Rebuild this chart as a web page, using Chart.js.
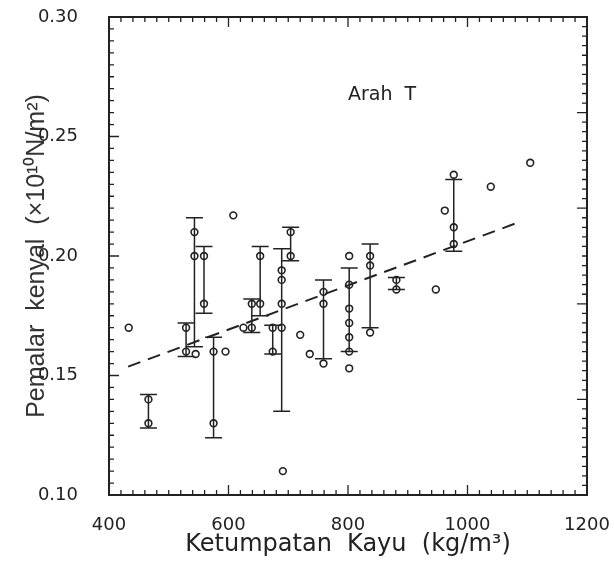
<!DOCTYPE html>
<html>
<head>
<meta charset="utf-8">
<script src="https://cdn.jsdelivr.net/npm/chart.js@4.4.1/dist/chart.umd.min.js"></script>
<style>
  html, body { margin: 0; padding: 0; background: #fff; }
  #wrap { width: 614px; height: 564px; }
</style>
</head>
<body>
<div id="wrap"><canvas id="grafica"></canvas></div>
<script>
// individual measurements (open circles)
const pointX = [433, 466, 466, 529, 529, 545, 543, 543, 559, 559, 575, 575, 595, 608, 625,
                639, 639, 653, 653, 674, 674, 689, 689, 689, 689, 691, 704, 704, 720, 736,
                759, 759, 759, 802, 802, 802, 802, 802, 802, 802, 837, 837, 837, 881, 881,
                947, 962, 977, 977, 977, 1039, 1105];
const pointY = [0.170, 0.140, 0.130, 0.170, 0.160, 0.159, 0.210, 0.200, 0.200, 0.180, 0.160, 0.130, 0.160, 0.217, 0.170,
                0.180, 0.170, 0.200, 0.180, 0.170, 0.160, 0.194, 0.190, 0.180, 0.170, 0.110, 0.210, 0.200, 0.167, 0.159,
                0.185, 0.180, 0.155, 0.200, 0.188, 0.178, 0.172, 0.166, 0.160, 0.153, 0.200, 0.196, 0.168, 0.190, 0.186,
                0.186, 0.219, 0.234, 0.212, 0.205, 0.229, 0.239];

// error bars (species groups)
const barX    = [466, 529, 543, 559, 575, 639, 653, 674, 689, 704, 759, 802, 837, 881, 977];
const barLow  = [0.128, 0.158, 0.162, 0.176, 0.124, 0.168, 0.175, 0.159, 0.135, 0.198, 0.157, 0.160, 0.170, 0.186, 0.202];
const barHigh = [0.142, 0.172, 0.216, 0.204, 0.166, 0.182, 0.204, 0.171, 0.203, 0.212, 0.190, 0.195, 0.205, 0.191, 0.232];

// regression line (dashed)
const fitX = [432, 1091];
const fitY = [0.1537, 0.2146];

// axes
const xTickLabels = [400, 600, 800, 1000, 1200];
const yTickLabels = [0.10, 0.15, 0.20, 0.25, 0.30];

const INK = '#222';
const CAP = 8.5;

// scale paddings off, chart area set by layout padding only
function fixBox(s, size) {
  if (s.isHorizontal()) s.height = size; else s.width = size;
  s.paddingTop = 0; s.paddingBottom = 0; s.paddingLeft = 0; s.paddingRight = 0;
}

const bingkai = {
  id: 'bingkai',
  beforeDatasetsDraw(chart) {
    const { ctx, scales: { x, y } } = chart;
    ctx.save();
    ctx.strokeStyle = INK;
    ctx.lineWidth = 1.5;
    barX.forEach((bx, i) => {
      const px = x.getPixelForValue(bx);
      const lo = y.getPixelForValue(barLow[i]);
      const hi = y.getPixelForValue(barHigh[i]);
      ctx.beginPath();
      ctx.moveTo(px, lo); ctx.lineTo(px, hi);
      ctx.moveTo(px - CAP, lo); ctx.lineTo(px + CAP, lo);
      ctx.moveTo(px - CAP, hi); ctx.lineTo(px + CAP, hi);
      ctx.stroke();
    });
    ctx.restore();
  },
  afterDraw(chart) {
    const { ctx, chartArea: a, scales: { x, y } } = chart;
    ctx.save();
    ctx.strokeStyle = INK;

    // ticks pointing inward
    ctx.lineWidth = 1.3;
    ctx.beginPath();
    x.ticks.forEach(t => {
      const px = x.getPixelForValue(t.value);
      const len = Math.round(t.value) % 200 === 0 ? 10 : 5;
      ctx.moveTo(px, a.bottom); ctx.lineTo(px, a.bottom - len);
      ctx.moveTo(px, a.top); ctx.lineTo(px, a.top + len);
    });
    y.ticks.forEach(t => {
      const py = y.getPixelForValue(t.value);
      const len = Math.round(t.value * 1000) % 50 === 0 ? 10 : 5;
      ctx.moveTo(a.left, py); ctx.lineTo(a.left + len, py);
    });
    // right axis carries its own division (0.004)
    for (let k = 0; k <= 50; k++) {
      const py = y.getPixelForValue(0.10 + k * 0.004);
      const len = k % 10 === 0 ? 10 : 5;
      ctx.moveTo(a.right, py); ctx.lineTo(a.right - len, py);
    }
    ctx.stroke();

    // frame
    ctx.lineWidth = 2;
    ctx.strokeRect(a.left, a.top, a.right - a.left, a.bottom - a.top);

    // label
    ctx.fillStyle = INK;
    ctx.font = '19px "DejaVu Sans"';
    ctx.textAlign = 'left';
    ctx.textBaseline = 'alphabetic';
    ctx.fillText('Arah  T', 348, 100);
    ctx.restore();
  }
};

new Chart(document.getElementById('grafica'), {
  data: {
    datasets: [
      {
        type: 'scatter',
        data: pointX.map((v, i) => ({ x: v, y: pointY[i] })),
        pointRadius: 3.4,
        pointBorderWidth: 1.6,
        borderColor: INK,
        backgroundColor: 'rgba(255,255,255,0)',
        pointHoverRadius: 3.4
      },
      {
        type: 'line',
        data: fitX.map((v, i) => ({ x: v, y: fitY[i] })),
        borderColor: INK,
        borderWidth: 2,
        borderDash: [13, 8],
        pointRadius: 0,
        fill: false
      }
    ]
  },
  options: {
    responsive: true,
    maintainAspectRatio: false,
    animation: false,
    layout: { padding: { left: 0, right: 27, top: 17, bottom: 0 } },
    plugins: { legend: { display: false }, tooltip: { enabled: false } },
    scales: {
      x: {
        type: 'linear',
        min: 400, max: 1200,
        afterFit: s => fixBox(s, 69),
        grid: { display: false, drawTicks: false },
        border: { display: false },
        ticks: {
          stepSize: 20,
          autoSkip: false,
          maxRotation: 0,
          padding: 20,
          color: INK,
          font: { family: 'DejaVu Sans', size: 18 },
          callback: v => xTickLabels.includes(Math.round(v)) ? String(Math.round(v)) : ''
        },
        title: {
          display: true,
          text: 'Ketumpatan  Kayu  (kg/m³)',
          color: INK,
          font: { family: 'DejaVu Sans', size: 24 },
          padding: { top: 0, bottom: 5 }
        }
      },
      y: {
        type: 'linear',
        min: 0.10, max: 0.30,
        afterFit: s => fixBox(s, 109),
        grid: { display: false, drawTicks: false },
        border: { display: false },
        ticks: {
          stepSize: 0.005,
          autoSkip: false,
          padding: 31,
          color: INK,
          font: { family: 'DejaVu Sans', size: 18 },
          callback: v => yTickLabels.some(t => Math.round(t * 1000) === Math.round(v * 1000)) ? v.toFixed(2) : ''
        },
        title: {
          display: true,
          text: 'Pemalar  kenyal  (×10¹⁰N/m²)',
          color: '#333',
          font: { family: 'Liberation Sans', size: 25 },
          padding: { top: 22, bottom: 0 }
        }
      }
    }
  },
  plugins: [bingkai]
});
</script>
</body>
</html>
